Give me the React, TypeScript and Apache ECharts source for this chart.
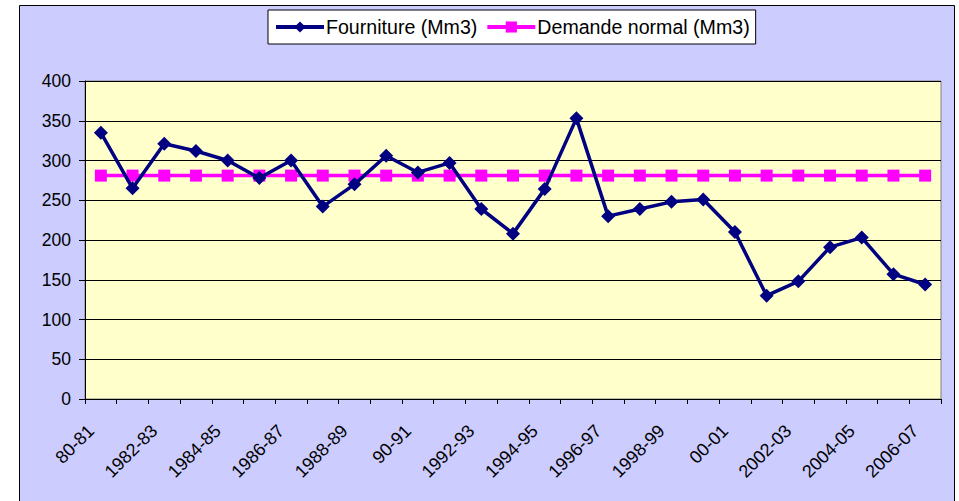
import React, { useEffect, useRef } from "react";
import * as echarts from "echarts";

const categories = [
  "80-81", "1981-82", "1982-83", "1983-84", "1984-85", "1985-86", "1986-87",
  "1987-88", "1988-89", "1989-90", "90-91", "1991-92", "1992-93", "1993-94",
  "1994-95", "1995-96", "1996-97", "1997-98", "1998-99", "1999-00", "00-01",
  "2001-02", "2002-03", "2003-04", "2004-05", "2005-06", "2006-07",
];

const fourniture = [
  335, 265, 321, 312, 300, 278, 300, 242, 270, 306, 285, 297, 239, 208,
  264, 353, 230, 239, 248, 251, 210, 130, 148, 191, 203, 157, 144,
];

const demandeNormal = [
  281, 281, 281, 281, 281, 281, 281, 281, 281, 281, 281, 281, 281, 281,
  281, 281, 281, 281, 281, 281, 281, 281, 281, 281, 281, 281, 281,
];

const yTicks = { min: 0, max: 400, interval: 50 };

export default function App() {
  const ref = useRef<HTMLDivElement>(null);
  useEffect(() => {
    if (!ref.current) return;
    const chart = echarts.init(ref.current, undefined, { renderer: "svg" });
    const font = "Arial, 'Liberation Sans', sans-serif";
    chart.setOption({
      animation: false,
      backgroundColor: "#ffffff",
      textStyle: { fontFamily: font },
      graphic: [
        {
          type: "rect",
          z: -10,
          silent: true,
          shape: { x: 19.5, y: 5.5, width: 935, height: 510 },
          style: { fill: "#CCCCFF", stroke: "#000000", lineWidth: 1 },
        },
      ],
      legend: {
        left: 268,
        top: 10,
        padding: [6, 6, 6, 6],
        itemGap: 8,
        itemWidth: 48,
        itemHeight: 14,
        backgroundColor: "#ffffff",
        borderColor: "#000000",
        borderWidth: 1,
        lineStyle: { width: 4 },
        textStyle: { fontSize: 19.6, color: "#000", fontFamily: font, padding: [0, 0, 0, -3], lineHeight: 22 },
        data: ["Fourniture (Mm3)", "Demande normal (Mm3)"],
      },
      grid: {
        left: 85,
        top: 81,
        right: 18,
        bottom: 102,
        show: true,
        backgroundColor: "#FFFFCC",
        borderColor: "#808080",
        borderWidth: 1,
      },
      xAxis: {
        type: "category",
        data: categories,
        boundaryGap: true,
        axisLine: { show: true, lineStyle: { color: "#000", width: 1 } },
        axisTick: { show: true, interval: 0, length: 5, lineStyle: { color: "#000" } },
        axisLabel: {
          interval: 1,
          rotate: 45,
          fontSize: 18,
          color: "#000",
          fontFamily: font,
          margin: 19,
          padding: [0, 14, 0, 0],
        },
      },
      yAxis: {
        type: "value",
        min: yTicks.min,
        max: yTicks.max,
        interval: yTicks.interval,
        axisLine: { show: true, lineStyle: { color: "#000", width: 1 } },
        axisTick: { show: true, length: 6, lineStyle: { color: "#000" } },
        axisLabel: { fontSize: 17.5, color: "#000", fontFamily: font, margin: 14 },
        splitLine: { show: true, lineStyle: { color: "#000", width: 1 } },
      },
      series: [
        {
          name: "Fourniture (Mm3)",
          type: "line",
          data: fourniture,
          symbol: "diamond",
          symbolSize: 14,
          lineStyle: { color: "#000080", width: 3.5 },
          itemStyle: { color: "#000080" },
          z: 4,
        },
        {
          name: "Demande normal (Mm3)",
          type: "line",
          data: demandeNormal,
          symbol: "rect",
          symbolSize: 12,
          lineStyle: { color: "#FF00FF", width: 3.5 },
          itemStyle: { color: "#FF00FF" },
          z: 3,
        },
      ],
    });
    return () => chart.dispose();
  }, []);
  return (
    <div
      ref={ref}
      style={{ position: "absolute", left: 0, top: 0, width: 959, height: 501 }}
    />
  );
}
